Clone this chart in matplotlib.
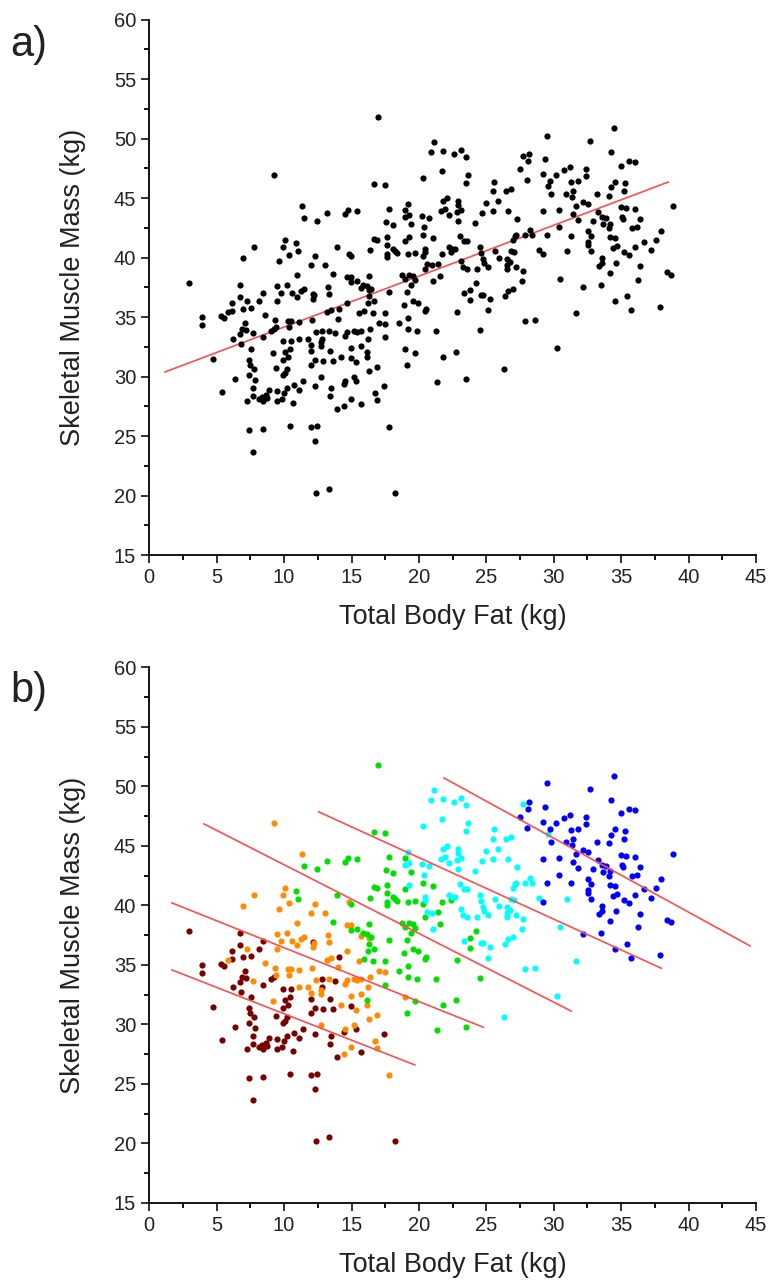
import numpy as np
import matplotlib
matplotlib.use("Agg")
import matplotlib.pyplot as plt
from matplotlib.ticker import MultipleLocator

plt.rcParams['font.family'] = ['Liberation Sans', 'DejaVu Sans']

# group 1 (dark red)
g1_x = [2.97, 6.73, 8.46, 6.73, 8.12, 6.14, 6.93, 7.52, 6.14, 3.91, 3.91, 5.30, 5.54, 7.12,
        6.88, 7.17, 6.73, 9.01, 9.25, 8.46, 6.23, 6.78, 7.52, 9.94, 10.53, 10.44, 10.09, 4.75,
        7.37, 10.29, 9.94, 12.17, 14.10, 12.81, 12.81, 13.76, 11.98, 13.41, 14.98, 12.27, 12.91,
        13.65, 7.47, 7.77, 7.38, 7.86, 6.38, 9.40, 9.90, 10.09, 10.19, 11.38, 10.73, 11.08, 7.67,
        8.86, 9.45, 5.39, 10.19, 9.99, 7.67, 7.27, 8.16, 8.36, 8.66, 8.75, 8.46, 9.50, 9.84,
        10.64, 7.42, 8.46, 10.44, 7.67, 11.98, 12.27, 13.46, 13.41, 14.44, 15.33, 17.41, 15.73,
        13.90, 11.98, 12.42, 12.31, 12.37, 13.31, 18.20]
g1_y = [37.88, 37.66, 37.04, 36.71, 36.37, 36.20, 35.70, 35.76, 35.48, 34.97, 34.30, 35.08,
        34.92, 34.52, 34.02, 33.91, 33.57, 33.80, 33.97, 33.35, 33.13, 32.74, 32.34, 33.00,
        33.00, 32.34, 32.06, 31.45, 31.39, 31.61, 31.39, 36.93, 35.65, 33.85, 33.13, 33.68,
        32.17, 32.17, 31.55, 31.39, 31.33, 31.33, 30.94, 30.61, 30.10, 29.71, 29.77, 30.71,
        30.15, 30.31, 30.60, 29.60, 29.26, 28.86, 29.03, 28.86, 28.81, 28.70, 29.03, 28.63,
        28.36, 27.96, 28.13, 28.30, 28.41, 28.19, 27.91, 27.96, 28.13, 27.79, 25.50, 25.61,
        25.84, 23.66, 30.94, 29.20, 29.03, 28.36, 29.37, 29.64, 29.20, 27.69, 27.30, 25.73,
        25.84, 24.55, 20.18, 20.52, 20.24]

# group 2 (orange)
g2_x = [9.23, 11.33, 10.09, 9.90, 10.39, 7.77, 6.97, 9.60, 10.94, 9.50, 10.19, 9.79, 10.59,
        10.94, 11.23, 11.48, 9.50, 7.23, 5.84, 8.56, 9.30, 10.29, 10.49, 11.13, 7.72, 9.40,
        10.34, 11.08, 9.15, 14.84, 12.32, 12.02, 13.06, 14.69, 14.94, 15.68, 16.28, 13.26,
        12.22, 12.12, 13.35, 14.69, 13.46, 13.16, 15.53, 17.06, 17.51, 12.07, 14.00, 16.37,
        13.35, 12.37, 14.69, 14.54, 15.19, 15.39, 15.73, 16.22, 11.77, 12.02, 12.76, 12.72,
        14.94, 15.73, 18.95, 16.16, 14.24, 12.72, 14.50, 15.19, 16.28, 16.91, 16.77, 16.87,
        14.94, 14.44, 17.76, 15.33]
g2_y = [46.90, 44.35, 41.47, 40.91, 40.23, 40.91, 39.96, 39.68, 38.55, 37.60, 37.66, 37.04,
        37.04, 36.65, 37.21, 37.32, 36.32, 36.37, 35.42, 35.19, 34.75, 34.64, 34.64, 34.58,
        33.68, 34.18, 34.13, 33.17, 31.99, 40.29, 40.12, 39.34, 39.39, 38.39, 38.39, 37.44,
        37.27, 37.55, 36.82, 36.49, 36.93, 36.20, 35.59, 35.42, 35.36, 34.52, 34.41, 34.75,
        34.81, 34.02, 33.85, 33.74, 33.74, 33.40, 33.80, 33.74, 33.80, 33.17, 33.17, 32.62,
        32.90, 32.56, 32.39, 32.56, 32.34, 31.61, 31.66, 29.98, 29.64, 29.98, 30.43, 30.77,
        28.58, 28.02, 28.13, 27.52, 25.78, 31.22]

# group 3 (green)
g3_x = [16.94, 16.65, 17.49, 11.48, 12.46, 13.20, 14.52, 14.76, 15.39, 17.78, 17.56, 18.95,
        18.10, 19.44, 10.88, 11.03, 16.67, 16.87, 17.66, 18.99, 20.33, 21.02, 16.37, 17.61,
        18.06, 18.25, 18.35, 17.61, 17.61, 19.19, 19.73, 20.30, 20.43, 13.95, 14.98, 13.65,
        16.32, 14.98, 15.39, 15.83, 16.18, 16.47, 17.81, 19.14, 18.75, 18.99, 19.29, 19.58,
        19.73, 19.44, 16.32, 16.67, 16.22, 18.89, 19.58, 19.93, 20.53, 20.43, 16.62, 17.46,
        15.93, 18.50, 19.19, 19.19, 17.46, 19.88, 19.73, 16.17, 21.71, 22.36, 21.39, 21.57,
        24.24, 23.81, 23.81, 22.85, 24.51, 21.27, 22.75, 21.81, 19.14, 21.36, 23.49]
g3_y = [51.77, 46.20, 46.06, 43.31, 43.09, 43.76, 43.62, 43.96, 43.90, 44.04, 42.97, 43.99,
        42.70, 42.83, 41.19, 40.57, 41.53, 41.47, 41.75, 41.42, 41.92, 41.64, 40.63, 41.02,
        40.69, 40.52, 40.40, 40.29, 40.01, 40.29, 40.40, 40.12, 39.05, 40.86, 40.12, 38.61,
        38.44, 37.94, 38.00, 37.71, 37.60, 37.38, 37.10, 37.10, 38.55, 38.21, 38.50, 38.44,
        38.10, 37.71, 36.76, 36.32, 36.15, 36.03, 36.32, 36.15, 35.65, 35.48, 35.31, 35.31,
        35.48, 34.47, 34.92, 33.97, 33.35, 33.80, 31.95, 32.06, 40.32, 40.49, 39.45, 38.42,
        37.86, 37.24, 36.40, 35.45, 33.88, 33.85, 32.06, 31.64, 30.94, 29.51, 29.76]

# group 4 (cyan)
g4_x = [21.12, 20.92, 21.81, 22.60, 23.10, 23.49, 27.70, 29.61, 21.71, 20.30, 23.64, 23.49,
        25.57, 25.52, 26.46, 26.81, 22.11, 21.77, 22.92, 22.92, 24.98, 25.89, 21.62, 21.96,
        23.10, 22.80, 22.26, 24.68, 25.50, 26.61, 27.26, 22.92, 24.14, 19.19, 18.97, 19.27,
        20.23, 20.75, 20.36, 28.24, 19.24, 20.43, 20.48, 20.62, 20.97, 21.02, 23.05, 27.11,
        27.20, 27.89, 28.37, 26.96, 23.35, 23.57, 22.21, 22.46, 22.70, 24.53, 25.67, 24.58,
        27.08, 26.83, 28.89, 25.92, 24.73, 24.85, 23.15, 26.56, 26.76, 26.56, 27.20, 26.51,
        25.13, 23.29, 23.59, 24.29, 27.74, 30.47, 27.67, 27.00, 26.61, 26.41, 23.35, 24.58,
        24.78, 25.27, 25.13, 27.85, 28.59, 30.27, 30.96, 31.63, 26.31]
g4_y = [49.70, 48.83, 48.97, 48.69, 49.02, 48.41, 48.54, 45.99, 47.26, 46.69, 46.90, 46.25,
        46.39, 45.55, 45.60, 45.77, 45.01, 44.76, 44.76, 44.42, 44.59, 44.71, 43.90, 44.04,
        43.96, 43.82, 43.59, 43.76, 43.90, 43.92, 43.25, 43.03, 42.91, 44.46, 43.42, 43.54,
        43.50, 43.33, 42.58, 42.30, 41.69, 40.69, 40.46, 39.45, 39.39, 38.05, 41.81, 41.81,
        41.92, 41.87, 41.87, 41.47, 41.39, 41.36, 40.86, 40.74, 40.69, 40.91, 40.57, 40.35,
        40.46, 40.52, 40.63, 39.95, 39.84, 39.55, 39.72, 39.89, 39.61, 39.38, 39.22, 39.05,
        39.22, 39.17, 39.00, 39.00, 38.86, 38.21, 38.04, 37.32, 37.15, 36.76, 37.04, 36.87,
        36.82, 36.48, 35.58, 34.68, 34.74, 32.39, 40.51, 35.33, 30.66]

# group 5 (blue)
g5_x = [28.17, 28.07, 27.50, 28.00, 34.47, 29.52, 32.67, 34.23, 29.35, 34.99, 35.56, 36.05,
        31.23, 30.79, 32.42, 29.21, 30.15, 32.37, 29.73, 31.29, 31.83, 34.55, 35.31, 34.23,
        31.41, 29.78, 30.91, 31.34, 33.23, 34.10, 35.24, 32.17, 32.57, 31.65, 35.01, 35.34,
        36.01, 38.83, 29.21, 30.39, 31.41, 33.26, 33.56, 33.86, 35.07, 35.16, 36.40, 31.83,
        32.89, 34.18, 33.63, 30.42, 35.79, 36.20, 37.94, 32.52, 34.12, 31.26, 32.74, 34.18,
        34.55, 32.57, 32.57, 34.40, 34.72, 36.03, 36.70, 37.59, 37.22, 32.77, 35.24, 35.59,
        33.58, 33.56, 33.38, 34.62, 36.40, 34.15, 38.43, 38.72, 36.25, 32.20, 33.51, 35.46,
        34.55, 35.71, 37.86, 29.50, 29.23]
g5_y = [48.72, 48.10, 47.46, 46.53, 50.86, 50.25, 49.80, 48.88, 48.29, 47.73, 48.10, 48.04,
        47.62, 47.37, 47.43, 47.03, 46.92, 46.86, 46.44, 46.31, 46.44, 46.39, 46.25, 45.94,
        45.60, 45.30, 45.35, 45.07, 45.32, 45.21, 45.60, 44.66, 44.49, 44.29, 44.26, 44.15,
        44.04, 44.29, 43.87, 43.96, 43.64, 43.79, 43.40, 43.34, 43.40, 43.20, 43.25, 43.12,
        43.03, 42.86, 42.78, 42.58, 42.49, 42.53, 42.22, 42.19, 42.47, 41.85, 41.80, 41.74,
        41.63, 41.29, 41.02, 40.80, 40.94, 40.86, 41.34, 41.45, 40.60, 40.54, 40.48, 40.18,
        39.95, 39.55, 39.30, 39.55, 39.27, 38.71, 38.79, 38.57, 38.15, 37.56, 37.70, 36.78,
        36.34, 35.61, 35.81, 41.89, 40.32]

groups_x = [g1_x, g2_x, g3_x, g4_x, g5_x]
groups_y = [g1_y, g2_y, g3_y, g4_y, g5_y]
group_colors = ['#7a0000', '#ff8c00', '#00e000', '#00ffff', '#0000ff']

# fitted lines: (x0, y0, x1, y1)
fit_all = (1.16, 30.38, 38.48, 46.34)
fit_groups = [(1.68, 34.58, 19.69, 26.60),
              (1.68, 40.21, 24.78, 29.76),
              (4.06, 46.85, 31.28, 31.13),
              (12.57, 47.86, 37.98, 34.72),
              (21.86, 50.71, 44.56, 36.60)]

line_color = '#ff4d4d'

fig = plt.figure(figsize=(7.78, 12.86), dpi=100)
ax_a = fig.add_axes([0.1919, 0.5684, 0.7798, 0.4164])
ax_b = fig.add_axes([0.1919, 0.0646, 0.7798, 0.4164])


def style_axis(ax):
    ax.set_xlim(0, 45)
    ax.set_ylim(15, 60)
    ax.xaxis.set_major_locator(MultipleLocator(5))
    ax.xaxis.set_minor_locator(MultipleLocator(2.5))
    ax.yaxis.set_major_locator(MultipleLocator(5))
    ax.yaxis.set_minor_locator(MultipleLocator(2.5))
    ax.spines['top'].set_visible(False)
    ax.spines['right'].set_visible(False)
    for s in ['left', 'bottom']:
        ax.spines[s].set_linewidth(1.3)
    ax.tick_params(which='major', direction='out', length=6, width=1.3, labelsize=14.5,
                   colors='#222222')
    ax.tick_params(which='minor', direction='out', length=3.5, width=1.3)
    ax.set_xlabel('Total Body Fat (kg)', fontsize=19.5, labelpad=12, color='#222222')
    ax.set_ylabel('Skeletal Muscle Mass (kg)', fontsize=19.5, labelpad=20, color='#222222')


# a) all points in black
all_x = sum(groups_x, [])
all_y = sum(groups_y, [])
ax_a.scatter(all_x, all_y, s=20, color='black', linewidths=0, zorder=3)
ax_a.plot([fit_all[0], fit_all[2]], [fit_all[1], fit_all[3]], color=line_color, lw=1.2, zorder=2)
style_axis(ax_a)

# b) points coloured by group
for gx, gy, c in zip(groups_x, groups_y, group_colors):
    ax_b.scatter(gx, gy, s=20, color=c, linewidths=0, zorder=3)
for x0, y0, x1, y1 in fit_groups:
    ax_b.plot([x0, x1], [y0, y1], color=line_color, lw=1.2, zorder=4)
style_axis(ax_b)

fig.text(0.013, 0.965, 'a)', fontsize=30, va='center', color='#222222')
fig.text(0.013, 0.463, 'b)', fontsize=30, va='center', color='#222222')

fig.savefig('out.png', dpi=100)
